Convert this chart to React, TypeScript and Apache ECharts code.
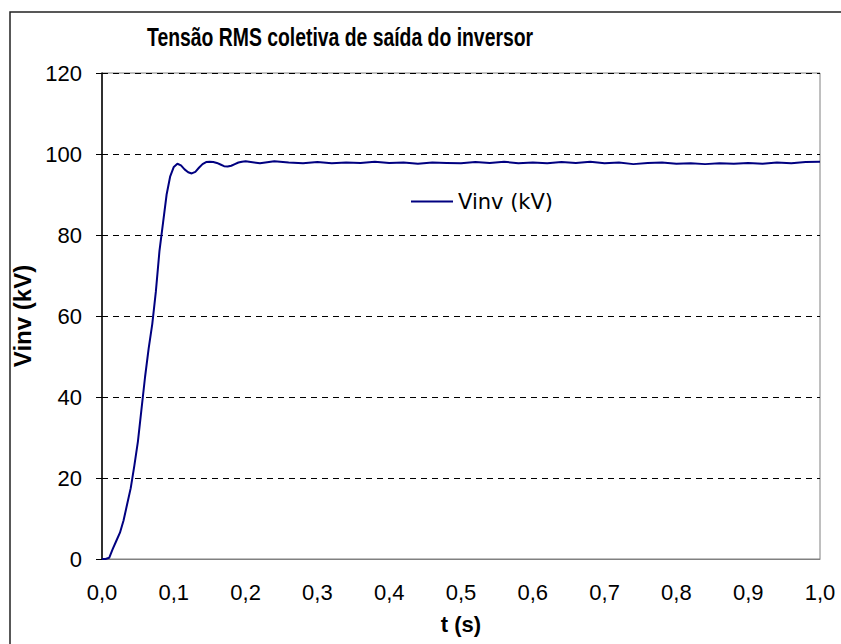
import React, { useEffect, useRef } from "react";
import * as echarts from "echarts";

const title = "Tensão RMS coletiva de saída do inversor";
const seriesName = "Vinv (kV)";
const xName = "t (s)";
const yName = "Vinv (kV)";

// time in seconds
const tValues = [
  0, 0.005, 0.01, 0.015, 0.02, 0.025, 0.03, 0.035, 0.04, 0.045,
  0.05, 0.055, 0.06, 0.065, 0.07, 0.075, 0.08, 0.085, 0.09, 0.095,
  0.1, 0.105, 0.11, 0.115, 0.12, 0.125, 0.13, 0.135, 0.14, 0.145,
  0.15, 0.155, 0.16, 0.165, 0.17, 0.175, 0.18, 0.185, 0.19, 0.195,
  0.2, 0.22, 0.24, 0.26, 0.28, 0.3, 0.32, 0.34, 0.36, 0.38,
  0.4, 0.42, 0.44, 0.46, 0.48, 0.5, 0.52, 0.54, 0.56, 0.58,
  0.6, 0.62, 0.64, 0.66, 0.68, 0.7, 0.72, 0.74, 0.76, 0.78,
  0.8, 0.82, 0.84, 0.86, 0.88, 0.9, 0.92, 0.94, 0.96, 0.98, 1.0,
];
// Vinv in kV
const vValues = [
  0, 0, 0.3, 2.5, 4.5, 6.5, 9.5, 13.5, 17.5, 23,
  29, 37, 45, 52, 58, 66, 76, 83, 90, 94.5,
  96.8, 97.6, 97.2, 96.2, 95.5, 95.2, 95.6, 96.6, 97.5, 98.0,
  98.1, 98.0, 97.8, 97.4, 97.0, 96.9, 97.1, 97.5, 97.9, 98.1,
  98.2, 97.7, 98.2, 97.9, 97.7, 98.0, 97.7, 97.9, 97.8, 98.1,
  97.8, 97.9, 97.6, 97.9, 97.8, 97.7, 98.0, 97.8, 98.1, 97.7,
  97.9, 97.7, 98.0, 97.8, 98.1, 97.7, 97.9, 97.5, 97.8, 97.9,
  97.6, 97.7, 97.5, 97.7, 97.6, 97.8, 97.6, 97.9, 97.7, 98.0, 98.1,
];

const xMin = 0, xMax = 1, xStep = 0.1;
const yMin = 0, yMax = 120, yStep = 20;

export default function App() {
  const ref = useRef<HTMLDivElement>(null);
  useEffect(() => {
    if (!ref.current) return;
    const chart = echarts.init(ref.current, null, { renderer: "svg" });
    const font = "'Liberation Sans', Arial, sans-serif";
    chart.setOption({
      animation: false,
      backgroundColor: "#ffffff",
      graphic: [
        {
          type: "rect",
          shape: { x: 10, y: 12, width: 900, height: 800 },
          style: { fill: "none", stroke: "#222", lineWidth: 1.5 },
          z: 100,
        },
        {
          type: "text",
          x: 147,
          y: 38,
          scaleX: 0.775,
          style: {
            text: title,
            fontFamily: font,
            fontSize: 25,
            fontWeight: "bold",
            fill: "#000",
            textAlign: "left",
            textVerticalAlign: "middle",
          },
          z: 100,
        },
      ],
      legend: {
        left: 406,
        top: 186,
        icon: "rect",
        itemWidth: 42,
        itemHeight: 2,
        itemGap: 6,
        textStyle: { fontFamily: "'DejaVu Sans', sans-serif", fontSize: 21, color: "#000" },
        data: [seriesName],
      },
      grid: {
        left: 102,
        right: 21,
        top: 73,
        bottom: 85,
        show: true,
        borderColor: "#808080",
        borderWidth: 1,
      },
      xAxis: {
        type: "value",
        min: xMin,
        max: xMax,
        interval: xStep,
        name: xName,
        nameLocation: "middle",
        nameGap: 54,
        nameTextStyle: { fontFamily: font, fontSize: 22, fontWeight: "bold", color: "#000" },
        axisLine: { show: true, lineStyle: { color: "#808080", width: 1 } },
        axisTick: { show: false },
        splitLine: { show: false },
        axisLabel: {
          fontFamily: font,
          fontSize: 22,
          color: "#000",
          margin: 22,
          formatter: (v: number) => v.toFixed(1).replace(".", ","),
        },
      },
      yAxis: {
        type: "value",
        min: yMin,
        max: yMax,
        interval: yStep,
        name: yName,
        nameLocation: "middle",
        nameGap: 59,
        nameRotate: 90,
        nameTextStyle: { fontFamily: font, fontSize: 24, fontWeight: "bold", color: "#000" },
        axisLine: { show: true, lineStyle: { color: "#000", width: 1.5 } },
        axisTick: { show: true, inside: false, length: 6, lineStyle: { color: "#000", width: 1 } },
        axisLabel: { fontFamily: font, fontSize: 22, color: "#000", margin: 20 },
        splitLine: {
          show: true,
          lineStyle: { color: "#000", width: 1, type: [6, 5] },
        },
      },
      series: [
        {
          name: seriesName,
          type: "line",
          showSymbol: false,
          symbol: "none",
          data: tValues.map((t, i) => [t, vValues[i]]),
          lineStyle: { color: "#000080", width: 2 },
          itemStyle: { color: "#000080" },
        },
      ],
    });
    return () => chart.dispose();
  }, []);
  return <div ref={ref} style={{ width: 841, height: 644, position: "absolute", left: 0, top: 0 }} />;
}
